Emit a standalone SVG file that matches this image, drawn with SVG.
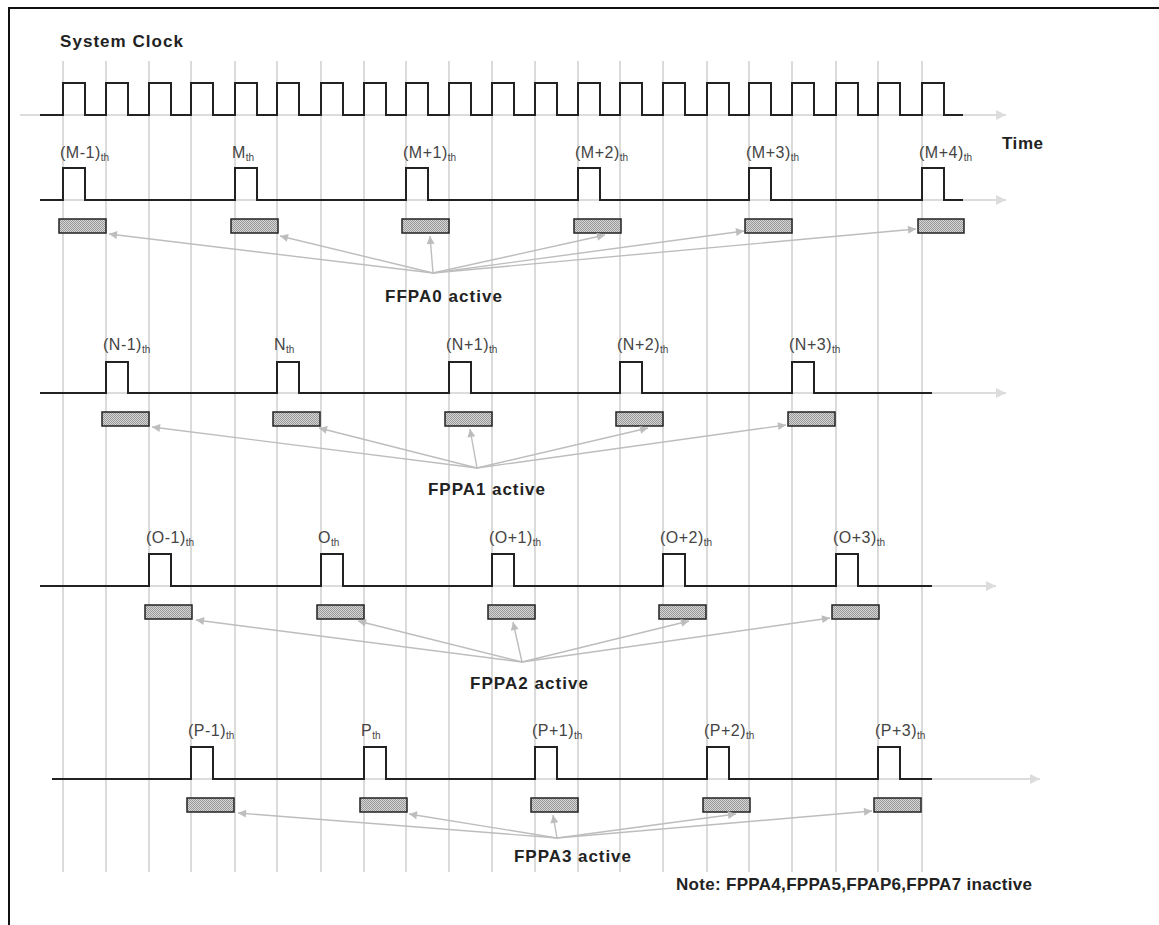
<svg xmlns="http://www.w3.org/2000/svg" width="1159" height="925" viewBox="0 0 1159 925">
<style>
.grid{stroke:#cfcfcf;stroke-width:1.5;fill:none}
.axis{stroke:#dcdcdc;stroke-width:2;fill:none;marker-end:url(#axh)}
.sig{stroke:#222;stroke-width:2;fill:none;stroke-linejoin:miter}
.slot{fill:url(#hatch);stroke:#222;stroke-width:1.5}
.lbl{font-family:"Liberation Sans",Arial,sans-serif;font-size:16px;fill:#444;letter-spacing:0.5px}
.sub{font-size:10px;letter-spacing:0}
.bold{font-family:"Liberation Sans",Arial,sans-serif;font-size:17px;font-weight:bold;fill:#222}
.con{stroke:#bdbdbd;stroke-width:1.4;fill:none;marker-end:url(#ah)}
</style>
<defs>
<pattern id="hatch" width="2" height="2" patternUnits="userSpaceOnUse"><rect width="2" height="2" fill="#d4d4d4"/><rect width="1" height="1" fill="#9a9a9a"/><rect x="1" y="1" width="1" height="1" fill="#9a9a9a"/></pattern>
<marker id="ah" viewBox="0 0 10 10" refX="10" refY="5" markerWidth="9" markerHeight="8" markerUnits="userSpaceOnUse" orient="auto"><path d="M0,0 L10,5 L0,10 z" fill="#bdbdbd"/></marker>
<marker id="axh" viewBox="0 0 10 10" refX="10" refY="5" markerWidth="10" markerHeight="10" markerUnits="userSpaceOnUse" orient="auto"><path d="M0,0 L10,5 L0,10 z" fill="#dcdcdc"/></marker>
</defs>
<rect width="1159" height="925" fill="#fff"/>
<g id="frame" stroke="#111" stroke-width="2" fill="none"><path d="M9,925 V8 H1159"/></g>
<g id="gridlines" class="grid">
<path d="M63,61V872M106,61V872M149,61V872M191,61V872M235,61V872M277,61V872M321,61V872M364,61V872M406,61V872M449,61V872M492,61V872M535,61V872M578,61V872M620,61V872M663,61V872M707,61V872M749,61V872M792,61V872M836,61V872M878,61V872M922,61V872"/>
</g>
<g id="axes">
<path class="axis" d="M20,115 H1006"/>
<path class="axis" d="M40,200 H1006"/>
<path class="axis" d="M40,393 H1006"/>
<path class="axis" d="M40,586 H996"/>
<path class="axis" d="M52,779 H1040"/>
</g>
<g id="clock">
<text class="bold" x="60" y="47" textLength="123" lengthAdjust="spacing">System Clock</text>
<path class="sig" d="M40,115 H63V83H85V115 H106V83H128V115 H149V83H171V115 H191V83H213V115 H235V83H257V115 H277V83H299V115 H321V83H343V115 H364V83H386V115 H406V83H428V115 H449V83H471V115 H492V83H514V115 H535V83H557V115 H578V83H600V115 H620V83H642V115 H663V83H685V115 H707V83H729V115 H749V83H771V115 H792V83H814V115 H836V83H858V115 H878V83H900V115 H922V83H944V115 H963"/>
<text class="bold" x="1002" y="149" textLength="41" lengthAdjust="spacing">Time</text>
</g>
<g id="row-M">
<path class="sig" d="M40,200 H63V168H85V200 H235V168H257V200 H406V168H428V200 H578V168H600V200 H749V168H771V200 H922V168H944V200 H963"/>
<text class="lbl" x="60" y="158">(M-1)<tspan class="sub" dy="3">th</tspan></text>
<text class="lbl" x="232" y="158">M<tspan class="sub" dy="3">th</tspan></text>
<text class="lbl" x="403" y="158">(M+1)<tspan class="sub" dy="3">th</tspan></text>
<text class="lbl" x="575" y="158">(M+2)<tspan class="sub" dy="3">th</tspan></text>
<text class="lbl" x="746" y="158">(M+3)<tspan class="sub" dy="3">th</tspan></text>
<text class="lbl" x="919" y="158">(M+4)<tspan class="sub" dy="3">th</tspan></text>
</g>
<g id="slots-M">
<rect class="slot" x="59" y="219" width="47" height="14"/>
<rect class="slot" x="231" y="219" width="47" height="14"/>
<rect class="slot" x="402" y="219" width="47" height="14"/>
<rect class="slot" x="574" y="219" width="47" height="14"/>
<rect class="slot" x="745" y="219" width="47" height="14"/>
<rect class="slot" x="918" y="219" width="46" height="14"/>
</g>
<g id="row-N">
<path class="sig" d="M40,393 H106V362H128V393 H277V362H299V393 H449V362H471V393 H620V362H642V393 H792V362H814V393 H932"/>
<text class="lbl" x="103" y="350">(N-1)<tspan class="sub" dy="3">th</tspan></text>
<text class="lbl" x="274" y="350">N<tspan class="sub" dy="3">th</tspan></text>
<text class="lbl" x="446" y="350">(N+1)<tspan class="sub" dy="3">th</tspan></text>
<text class="lbl" x="617" y="350">(N+2)<tspan class="sub" dy="3">th</tspan></text>
<text class="lbl" x="789" y="350">(N+3)<tspan class="sub" dy="3">th</tspan></text>
</g>
<g id="slots-N">
<rect class="slot" x="102" y="412" width="47" height="14"/>
<rect class="slot" x="273" y="412" width="47" height="14"/>
<rect class="slot" x="445" y="412" width="47" height="14"/>
<rect class="slot" x="616" y="412" width="47" height="14"/>
<rect class="slot" x="788" y="412" width="47" height="14"/>
</g>
<g id="row-O">
<path class="sig" d="M40,586 H149V554H171V586 H321V554H343V586 H492V554H514V586 H663V554H685V586 H836V554H858V586 H932"/>
<text class="lbl" x="146" y="543">(O-1)<tspan class="sub" dy="3">th</tspan></text>
<text class="lbl" x="318" y="543">O<tspan class="sub" dy="3">th</tspan></text>
<text class="lbl" x="489" y="543">(O+1)<tspan class="sub" dy="3">th</tspan></text>
<text class="lbl" x="660" y="543">(O+2)<tspan class="sub" dy="3">th</tspan></text>
<text class="lbl" x="833" y="543">(O+3)<tspan class="sub" dy="3">th</tspan></text>
</g>
<g id="slots-O">
<rect class="slot" x="145" y="605" width="47" height="14"/>
<rect class="slot" x="317" y="605" width="47" height="14"/>
<rect class="slot" x="488" y="605" width="47" height="14"/>
<rect class="slot" x="659" y="605" width="47" height="14"/>
<rect class="slot" x="832" y="605" width="47" height="14"/>
</g>
<g id="row-P">
<path class="sig" d="M52,779 H191V747H213V779 H364V747H386V779 H535V747H557V779 H707V747H729V779 H878V747H900V779 H932"/>
<text class="lbl" x="188" y="736">(P-1)<tspan class="sub" dy="3">th</tspan></text>
<text class="lbl" x="361" y="736">P<tspan class="sub" dy="3">th</tspan></text>
<text class="lbl" x="532" y="736">(P+1)<tspan class="sub" dy="3">th</tspan></text>
<text class="lbl" x="704" y="736">(P+2)<tspan class="sub" dy="3">th</tspan></text>
<text class="lbl" x="875" y="736">(P+3)<tspan class="sub" dy="3">th</tspan></text>
</g>
<g id="slots-P">
<rect class="slot" x="187" y="798" width="47" height="14"/>
<rect class="slot" x="360" y="798" width="47" height="14"/>
<rect class="slot" x="531" y="798" width="47" height="14"/>
<rect class="slot" x="703" y="798" width="47" height="14"/>
<rect class="slot" x="874" y="798" width="47" height="14"/>
</g>
<g id="connectors">
<path class="con" d="M433,273 L109,234"/>
<path class="con" d="M433,273 L280,236"/>
<path class="con" d="M433,273 L430,236"/>
<path class="con" d="M433,273 L605,235"/>
<path class="con" d="M433,273 L744,231"/>
<path class="con" d="M433,273 L916,229"/>
<path class="con" d="M477,468 L152,427"/>
<path class="con" d="M477,468 L319,428"/>
<path class="con" d="M477,468 L470,429"/>
<path class="con" d="M477,468 L648,428"/>
<path class="con" d="M477,468 L786,425"/>
<path class="con" d="M522,662 L196,620"/>
<path class="con" d="M522,662 L358,621"/>
<path class="con" d="M522,662 L513,622"/>
<path class="con" d="M522,662 L689,621"/>
<path class="con" d="M522,662 L830,618"/>
<path class="con" d="M557,838 L238,813"/>
<path class="con" d="M557,838 L409,814"/>
<path class="con" d="M557,838 L553,815"/>
<path class="con" d="M557,838 L736,814"/>
<path class="con" d="M557,838 L872,811"/>
</g>
<g id="labels">
<text class="bold" x="385" y="302" textLength="117" lengthAdjust="spacing">FFPA0 active</text>
<text class="bold" x="428" y="495" textLength="117" lengthAdjust="spacing">FPPA1 active</text>
<text class="bold" x="470" y="689" textLength="118" lengthAdjust="spacing">FPPA2 active</text>
<text class="bold" x="514" y="862" textLength="117" lengthAdjust="spacing">FPPA3 active</text>
<text class="bold" x="676" y="890" textLength="356" lengthAdjust="spacing">Note: FPPA4,FPPA5,FPAP6,FPPA7 inactive</text>
</g>
</svg>
